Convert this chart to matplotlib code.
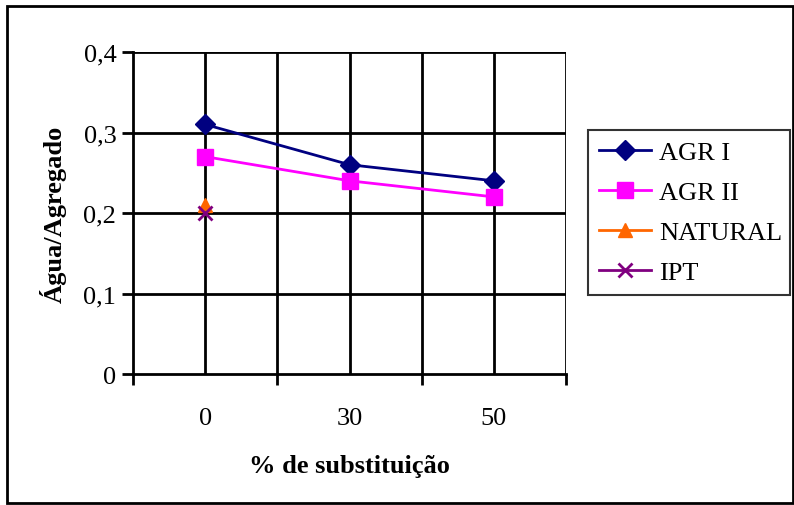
import matplotlib
matplotlib.use("Agg")
import matplotlib.pyplot as plt
from matplotlib.patches import Rectangle

plt.rcParams['font.family'] = ['Liberation Serif', 'DejaVu Serif']

categories = ['0', '30', '50']
agr1 = [0.31, 0.26, 0.24]
agr2 = [0.27, 0.24, 0.22]
natural = [0.21]
ipt = [0.20]
y_ticks = [0, 0.1, 0.2, 0.3, 0.4]
y_tick_labels = ['0', '0,1', '0,2', '0,3', '0,4']

fs = 19

fig = plt.figure(figsize=(7.94, 5.06), dpi=100)
ax = fig.add_axes([133/794, 1-375/506, (566-133)/794, (375-53)/506])

x = [i + 0.5 for i in range(len(categories))]

# grid lines (category centres and boundaries)
for gx in [0.5, 1, 1.5, 2, 2.5, 3]:
    ax.axvline(gx, color='black', lw=2, zorder=1)
for gy in y_ticks[1:]:
    ax.axhline(gy, color='black', lw=2, zorder=1)

ax.plot(x, agr1, color='#000080', lw=2, marker='D', ms=10, label='AGR I', zorder=3)
ax.plot(x, agr2, color='#FF00FF', lw=2, marker='s', ms=11, label='AGR II', zorder=3)
ax.plot(x[:1], natural, color='#FF6600', lw=2, marker='^', ms=10, label='NATURAL', zorder=3)
ax.plot(x[:1], ipt, color='#800080', lw=2, marker='x', ms=10, mew=2, label='IPT', zorder=4)

ax.set_xlim(0, 3)
ax.set_ylim(0, 0.4)
ax.set_xticks([0, 1, 2, 3])
ax.set_xticklabels([])
ax.set_xticks(x, minor=True)
ax.set_xticklabels(categories, minor=True, fontsize=fs)
ax.tick_params(axis='x', which='major', direction='out', length=8, width=2)
ax.tick_params(axis='x', which='minor', length=0, pad=24)
ax.set_yticks(y_ticks)
ax.set_yticklabels(y_tick_labels, fontsize=fs)
ax.tick_params(axis='y', direction='out', length=8, width=2, pad=4)

for side in ['top', 'right']:
    ax.spines[side].set_visible(False)
for side in ['left', 'bottom']:
    ax.spines[side].set_linewidth(2)

ax.set_xlabel('% de substituição', fontsize=fs, fontweight='bold', labelpad=18)
ax.set_ylabel('Água/Agregado', fontsize=fs, fontweight='bold', labelpad=12)

leg = ax.legend(loc='center left', bbox_to_anchor=(588/794, 1-295/506, (790-588)/794, (295-132)/506),
                bbox_transform=fig.transFigure, mode='expand', fontsize=fs, frameon=True,
                fancybox=False, edgecolor='black', handlelength=2.0, handletextpad=0.3,
                labelspacing=0.63, borderpad=0.4, borderaxespad=0)
leg.get_frame().set_linewidth(1.5)

fig.patches.append(Rectangle((7/794, 2/506), (793-7)/794, (499-2)/506, transform=fig.transFigure,
                             fill=False, edgecolor='black', lw=2))

fig.savefig('out.png', dpi=100)
